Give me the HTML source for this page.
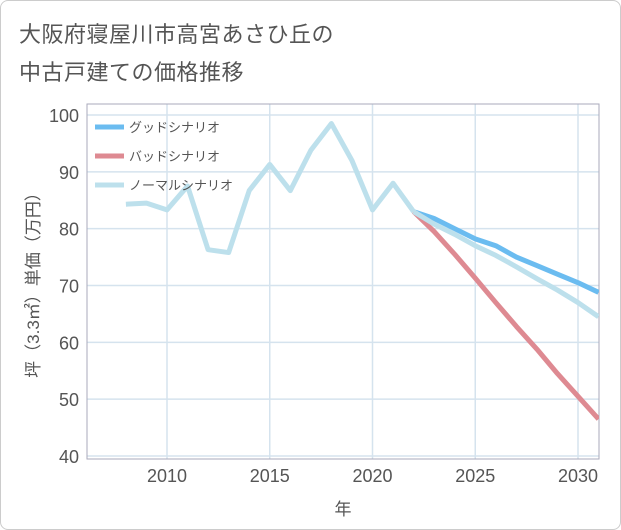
<!DOCTYPE html>
<html><head><meta charset="utf-8"><style>
body{margin:0;background:#fff;font-family:"Liberation Sans","Noto Sans CJK JP",sans-serif;}
#wrap{position:relative;width:619px;height:528px;border:1px solid #ccc;border-radius:8px;overflow:hidden;background:#fff}
.title{position:absolute;left:18px;font-size:22px;color:#555;letter-spacing:0.5px}
</style></head><body>
<div id="wrap">
<div class="title" style="top:16px">大阪府寝屋川市高宮あさひ丘の</div>
<div class="title" style="top:54px">中古戸建ての価格推移</div>
<svg id="chart" width="621" height="530" style="position:absolute;left:0;top:0"></svg>
</div>
<script>
const histYears=[2008,2009,2010,2011,2012,2013,2014,2015,2016,2017,2018,2019,2020,2021,2022];
const histValues=[84.3,84.5,83.3,87.5,76.3,75.8,86.7,91.3,86.7,93.8,98.5,92,83.3,88,83];
const futYears=[2022,2023,2024,2025,2026,2027,2028,2029,2030,2031];
const goodValues=[83,81.8,80,78.2,77,75,73.5,72,70.5,68.8];
const badValues=[83,79.5,75.5,71.3,67,62.8,58.8,54.5,50.5,46.5];
const normalValues=[83,80.8,79,77,75.3,73.3,71.2,69.2,67,64.5];
const xTicks=[2010,2015,2020,2025,2030];
const yTicks=[40,50,60,70,80,90,100];
const L=86,R=598,T=103,B=458;
const xs=y=>166+(y-2010)*20.55;
const ys=v=>455-(v-40)*5.683;
const NS='http://www.w3.org/2000/svg';
const svg=document.getElementById('chart');
function mk(t,a,p){const e=document.createElementNS(NS,t);for(const k in a)e.setAttribute(k,a[k]);(p||svg).appendChild(e);return e;}
const defs=mk('defs',{});const cp=mk('clipPath',{id:'cp'},defs);mk('rect',{x:L,y:T,width:R-L,height:B-T},cp);
yTicks.forEach(v=>{const l=mk('line',{x1:L,x2:R,y1:ys(v),y2:ys(v),stroke:'#d5e3ee','stroke-width':1.5});

const t=mk('text',{x:78,y:ys(v)+7,'text-anchor':'end','font-size':18,fill:'#555'});t.textContent=v;
});
xTicks.forEach(v=>{const l=mk('line',{x1:xs(v),x2:xs(v),y1:T,y2:B,stroke:'#d5e3ee','stroke-width':1.5});

const t=mk('text',{x:xs(v),y:481,'text-anchor':'middle','font-size':18,fill:'#555'});t.textContent=v;
});
const fr=mk('rect',{x:L,y:T,width:R-L,height:B-T,fill:'none',stroke:'#aab','stroke-width':1});

const g=mk('g',{'clip-path':'url(#cp)'});
function line(xa,va,c,name){const p=mk('polyline',{points:xa.map((x,i)=>xs(x)+','+ys(va[i])).join(' '),fill:'none',stroke:c,'stroke-width':5,'stroke-linejoin':'round'},g);
}
line(futYears,goodValues,'#6bbcf0','good-scenario-line');
line(futYears,badValues,'#de8a92','bad-scenario-line');
line(futYears,normalValues,'#bde0ec','normal-scenario-line');
line(histYears,histValues,'#bde0ec','historical-line');
const leg=[['グッドシナリオ','#6bbcf0'],['バッドシナリオ','#de8a92'],['ノーマルシナリオ','#bde0ec']];
leg.forEach((d,i)=>{const y=126+i*29;
const s=mk('line',{x1:94,x2:123,y1:y,y2:y,stroke:d[1],'stroke-width':5});

const t=mk('text',{x:128,y:y+5,'font-size':13,fill:'#555'});t.textContent=d[0];
});
const xt=mk('text',{x:342,y:514,'text-anchor':'middle','font-size':17,fill:'#555'});xt.textContent='年';

const yt=mk('text',{x:0,y:0,'text-anchor':'middle','font-size':17,fill:'#555',transform:'translate(38,280) rotate(-90)'});yt.textContent='坪（3.3㎡）単価（万円）';

</script>
</body></html>
